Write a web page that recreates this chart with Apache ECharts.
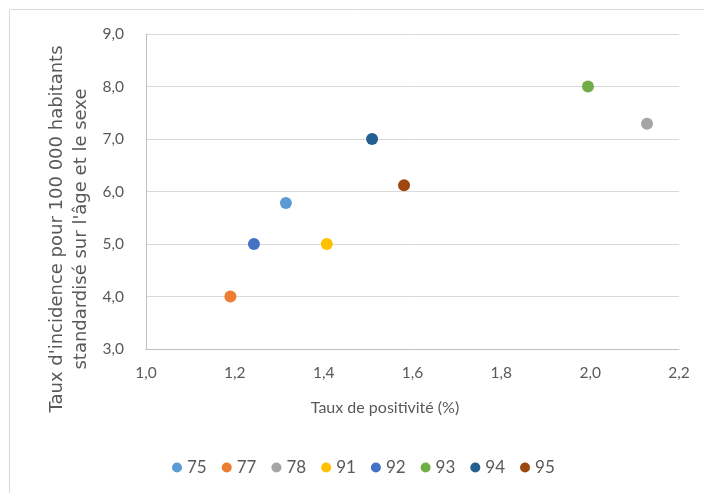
<!DOCTYPE html>
<html>
<head>
<meta charset="utf-8">
<script src="https://cdn.jsdelivr.net/npm/echarts@6/dist/echarts.min.js"></script>
<style>
html,body{margin:0;padding:0;background:#fff;}
#c{width:704px;height:493px;}
</style>
</head>
<body>
<div id="c"></div>
<script>
var departments = ['75', '77', '78', '91', '92', '93', '94', '95'];
var positivity = [1.315, 1.19, 2.128, 1.407, 1.243, 1.995, 1.509, 1.581];
var incidence = [5.78, 4.0, 7.29, 5.0, 5.0, 8.0, 7.0, 6.12];
var colors = ['#5B9BD5', '#ED7D31', '#A5A5A5', '#FFC000', '#4472C4', '#70AD47', '#255E91', '#9E480E'];
var xTitle = 'Taux de positivité (%)';
var yTitle1 = "Taux d'incidence pour 100 000 habitants";
var yTitle2 = "standardisé sur l'âge et le sexe";

var FONT = 'Lato';
var TXT = '#595959';

var series = departments.map(function (d, i) {
  return {
    name: d,
    type: 'scatter',
    symbol: 'circle',
    symbolSize: 12,
    itemStyle: { color: colors[i], opacity: 1 },
    data: [[positivity[i], incidence[i]]]
  };
});

var chart = echarts.init(document.getElementById('c'));
chart.setOption({
  animation: false,
  textStyle: { fontFamily: FONT },
  color: colors,
  grid: { left: 146, right: 25, top: 34, bottom: 144, containLabel: false },
  xAxis: {
    type: 'value', min: 1, max: 2.2, interval: 0.2,
    axisLine: { show: true, lineStyle: { color: '#bfbfbf', width: 1 } },
    axisTick: { show: false },
    splitLine: { show: false },
    axisLabel: {
      color: TXT, fontSize: 15.5, fontFamily: FONT, margin: 16,
      formatter: function (v) { return v.toFixed(1).replace('.', ','); }
    }
  },
  yAxis: {
    type: 'value', min: 3, max: 9, interval: 1,
    axisLine: { show: true, lineStyle: { color: '#bfbfbf', width: 1 } },
    axisTick: { show: false },
    splitLine: { show: true, lineStyle: { color: '#d9d9d9', width: 1 } },
    axisLabel: {
      color: TXT, fontSize: 15.5, fontFamily: FONT, margin: 22,
      formatter: function (v) { return v.toFixed(1).replace('.', ','); }
    }
  },
  legend: {
    bottom: 17, left: 172, padding: 0,
    icon: 'circle', itemWidth: 10, itemHeight: 10, itemGap: 15,
    textStyle: { color: TXT, fontSize: 17, fontFamily: FONT },
    data: departments
  },
  graphic: [
    { type: 'line', shape: { x1: 9.5, y1: 9.5, x2: 704, y2: 9.5 }, style: { stroke: '#d9d9d9', lineWidth: 1 } },
    { type: 'line', shape: { x1: 9.5, y1: 9.5, x2: 9.5, y2: 493 }, style: { stroke: '#d9d9d9', lineWidth: 1 } },
    { type: 'text', x: 385, y: 408, style: { text: xTitle, fill: TXT, font: '16px ' + FONT, textAlign: 'center', textVerticalAlign: 'middle' } },
    { type: 'text', x: 57, y: 229, rotation: Math.PI / 2, style: { text: yTitle1, fill: TXT, font: '18px "DejaVu Sans"', textAlign: 'center', textVerticalAlign: 'middle' } },
    { type: 'text', x: 81, y: 229, rotation: Math.PI / 2, style: { text: yTitle2, fill: TXT, font: '18px "DejaVu Sans"', textAlign: 'center', textVerticalAlign: 'middle' } }
  ],
  series: series
});
</script>
</body>
</html>
